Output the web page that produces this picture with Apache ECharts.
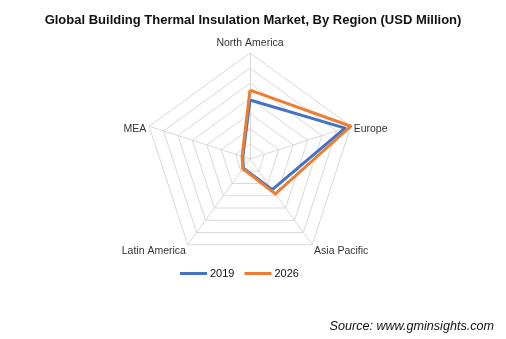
<!DOCTYPE html>
<html>
<head>
<meta charset="utf-8">
<script src="https://cdn.jsdelivr.net/npm/echarts@6/dist/echarts.min.js"></script>
<style>html,body{margin:0;padding:0;background:#fff}#c{width:506px;height:339px}</style>
</head>
<body>
<div id="c"></div>
<script>
const regions = ['North America', 'MEA', 'Latin America', 'Asia Pacific', 'Europe'];
const seriesNames = ['2019', '2026'];
const values2019 = [7800, 1000, 1500, 5000, 13200];
const values2026 = [9100, 1100, 1600, 5700, 14000];
const axisMax = 14000;

const chart = echarts.init(document.getElementById('c'));
chart.setOption({
  animation: false,
  backgroundColor: '#fff',
  title: {
    text: 'Global Building Thermal Insulation Market, By Region (USD Million)',
    left: 'center', top: 9,
    textStyle: {fontFamily: 'Liberation Sans, Arial', fontSize: 13, fontWeight: 'bold', color: '#111'}
  },
  legend: {
    data: seriesNames,
    top: 263, left: 175,
    icon: 'rect', itemWidth: 27, itemHeight: 3, itemGap: 10,
    textStyle: {fontFamily: 'Liberation Sans, Arial', fontSize: 11, color: '#111', padding: [0, 0, 0, -2]}
  },
  graphic: [{
    type: 'text', right: 12, top: 320,
    style: {text: 'Source: www.gminsights.com', font: 'italic 12.6px "Liberation Sans", Arial', fill: '#111'}
  }],
  radar: {
    center: [250, 159], radius: 106, startAngle: 90,
    shape: 'polygon', splitNumber: 7,
    indicator: regions.map(r => ({name: r, max: axisMax, min: 0})),
    axisName: {
      color: '#333', fontFamily: 'Liberation Sans, Arial', fontSize: 10.5,
      formatter: n => '{s| }\n{n|' + n + '}',
      rich: {
        s: {lineHeight: 7, fontSize: 1},
        n: {color: '#333', fontFamily: 'Liberation Sans, Arial', fontSize: 10.5, lineHeight: 13}
      }
    },
    nameGap: 3,
    splitLine: {lineStyle: {color: '#d9d9d9', width: 1}},
    splitArea: {show: false},
    axisLine: {lineStyle: {color: '#d9d9d9', width: 1}},
    axisTick: {show: false}, axisLabel: {show: false}
  },
  series: [{
    type: 'radar', symbol: 'none',
    data: [
      {name: seriesNames[0], value: values2019, lineStyle: {color: '#4472C4', width: 3}, itemStyle: {color: '#4472C4'}},
      {name: seriesNames[1], value: values2026, lineStyle: {color: '#ED7D31', width: 3}, itemStyle: {color: '#ED7D31'}}
    ]
  }]
});
</script>
</body>
</html>
